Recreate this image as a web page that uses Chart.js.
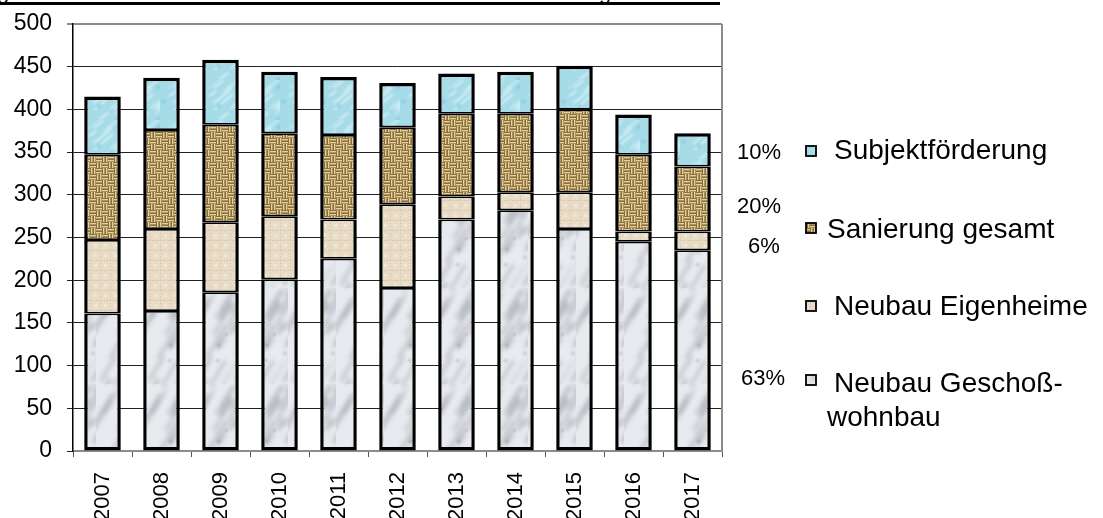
<!DOCTYPE html>
<html>
<head>
<meta charset="utf-8">
<script src="https://cdn.jsdelivr.net/npm/chart.js@4.4.1/dist/chart.umd.min.js"></script>
<style>
  html, body { margin: 0; padding: 0; background: #fff; }
  #wrap { position: relative; width: 1103px; height: 518px; }
</style>
</head>
<body>
<div id="wrap"><canvas id="c" width="1103" height="518"></canvas></div>
<script>
// Förderungsvolumen je Bereich (Mio. €), 2007–2017
const years = ['2007', '2008', '2009', '2010', '2011', '2012', '2013', '2014', '2015', '2016', '2017'];
const neubauGeschosswohnbau = [161, 164, 186, 201, 225, 191, 271, 282, 260, 245, 235];
const neubauEigenheime      = [86, 96, 82, 74, 46, 98, 27, 21, 43, 12, 22];
const sanierungGesamt       = [100, 116, 114, 97, 99, 90, 97, 92, 97, 90, 76];
const subjektfoerderung     = [68, 61, 76, 72, 68, 52, 47, 49, 51, 47, 39];
const yTickValues = [0, 50, 100, 150, 200, 250, 300, 350, 400, 450, 500];
const shareLabels = ['10%', '20%', '6%', '63%'];
const legendNames = ['Subjektförderung', 'Sanierung gesamt', 'Neubau Eigenheime', ['Neubau Geschoß-', 'wohnbau']];

const FONT = 'Arial, "Liberation Sans", Helvetica, sans-serif';
const canvas = document.getElementById('c');
const ctx = canvas.getContext('2d');

// deterministic hash for texture detail
function hash(n) { const s = Math.sin(n * 12.9898 + 78.233) * 43758.5453; return s - Math.floor(s); }

function tile(w, h, paint) {
  const c = document.createElement('canvas');
  c.width = w; c.height = h;
  paint(c.getContext('2d'), w, h);
  return ctx.createPattern(c, 'repeat');
}

// white marble
const marble = tile(48, 96, (g, w, h) => {
  g.fillStyle = '#e7eaee'; g.fillRect(0, 0, w, h);
  g.filter = 'blur(2px)';
  for (let k = 0; k < 26; k++) {
    const x = hash(k) * (w + 12) - 6, y = hash(k + 50) * (h + 14) - 7, len = 10 + hash(k + 100) * 24;
    g.strokeStyle = `rgba(120,125,135,${0.2 + hash(k + 150) * 0.22})`;
    g.lineWidth = 2 + hash(k + 200) * 3;
    g.beginPath(); g.moveTo(x, y); g.lineTo(x + len * 0.6, y - len); g.stroke();
  }
  g.filter = 'blur(0.8px)';
  for (let k = 0; k < 4; k++) {
    g.fillStyle = 'rgba(110,115,125,0.4)';
    g.beginPath(); g.arc(hash(k + 300) * w, hash(k + 350) * h, 1.5, 0, Math.PI * 2); g.fill();
  }
  g.filter = 'none';
});

// light canvas / linen
const linen = tile(10, 10, (g, w, h) => {
  g.fillStyle = '#e8dcc6'; g.fillRect(0, 0, w, h);
  g.fillStyle = '#d3c3a6';
  for (let i = 0; i < w; i += 2) g.fillRect(i, 0, 1, 1);
  for (let j = 0; j < h; j += 3) g.fillRect(0, j, 1, 1);
  g.fillStyle = '#efe6d6';
  g.fillRect(4, 4, 3, 3);
});

// woven straw
const weave = tile(12, 12, (g, w, h) => {
  g.fillStyle = '#74552a'; g.fillRect(0, 0, w, h);
  g.fillStyle = '#e4d196';
  for (let i = 0; i < 2; i++) {
    for (let j = 0; j < 2; j++) {
      const x0 = i * 6, y0 = j * 6;
      for (let r = 0; r < 2; r++) {
        if ((i + j) % 2 === 0) g.fillRect(x0, y0 + 0.8 + r * 3, 6, 1.7);
        else g.fillRect(x0 + 0.8 + r * 3, y0, 1.7, 6);
      }
    }
  }
});

// light blue water
const water = tile(40, 40, (g, w, h) => {
  g.fillStyle = '#a6dbe8'; g.fillRect(0, 0, w, h);
  g.filter = 'blur(1px)';
  for (let k = 0; k < 14; k++) {
    const x = hash(k + 500) * w, y = hash(k + 550) * h, len = 6 + hash(k + 600) * 14;
    g.strokeStyle = 'rgba(225,246,250,0.7)';
    g.lineWidth = 1 + hash(k + 650) * 1.5;
    g.beginPath(); g.moveTo(x, y); g.lineTo(x + len, y - len * 0.8); g.stroke();
  }
  for (let k = 0; k < 4; k++) {
    g.fillStyle = 'rgba(120,190,210,0.6)';
    g.beginPath(); g.arc(hash(k + 700) * w, hash(k + 750) * h, 2, 0, Math.PI * 2); g.fill();
  }
  g.filter = 'none';
});

const legendFills = [water, weave, linen, marble];

const decorations = {
  id: 'decorations',
  afterDraw(chart) {
    const c = chart.ctx, a = chart.chartArea;
    c.save();
    // underline of the heading above the chart
    c.fillStyle = '#000';
    c.fillRect(0, 2, 720, 3);
    c.font = '22px ' + FONT;
    c.textBaseline = 'alphabetic';
    c.fillText('g', -3, -1);
    c.fillText('g', 599, -1);
    // right frame edge of the plot area
    c.strokeStyle = '#8c8c8c';
    c.lineWidth = 2;
    c.beginPath(); c.moveTo(a.right, a.top); c.lineTo(a.right, a.bottom); c.stroke();

    // legend with shares
    const rows = [
      { pct: shareLabels[0], px: 737, py: 159, my: 146, tx: 834, ty: 159 },
      { pct: shareLabels[1], px: 737, py: 213, my: 223, tx: 827, ty: 238 },
      { pct: shareLabels[2], px: 748, py: 253, my: 301, tx: 834, ty: 315 },
      { pct: shareLabels[3], px: 741, py: 385, my: 375, tx: 834, ty: 392 }
    ];
    rows.forEach((r, i) => {
      c.fillStyle = '#000';
      c.font = '22px ' + FONT;
      c.textAlign = 'left';
      c.fillText(r.pct, r.px, r.py);
      c.fillStyle = legendFills[i];
      c.fillRect(806, r.my, 10, 10);
      c.strokeStyle = '#000';
      c.lineWidth = 1.8;
      c.strokeRect(806, r.my, 10, 10);
      c.fillStyle = '#000';
      c.font = '28px ' + FONT;
      const name = legendNames[i];
      if (Array.isArray(name)) {
        c.fillText(name[0], r.tx, r.ty);
        c.fillText(name[1], 827, r.ty + 34);
      } else {
        c.fillText(name, r.tx, r.ty);
      }
    });
    c.restore();
  }
};

// neighbouring segments share their edge, so inner edges are split in half
const common = { borderColor: '#000', borderSkipped: false };
const lowest = { ...common, borderWidth: { top: 1.75, bottom: 3.5, left: 3.5, right: 3.5 } };
const middle = { ...common, borderWidth: { top: 1.75, bottom: 1.75, left: 3.5, right: 3.5 } };
const upper  = { ...common, borderWidth: { top: 3.5, bottom: 1.75, left: 3.5, right: 3.5 } };

new Chart(canvas, {
  type: 'bar',
  data: {
    labels: years,
    datasets: [
      { label: 'Neubau Geschoßwohnbau', data: neubauGeschosswohnbau, backgroundColor: marble, ...lowest },
      { label: 'Neubau Eigenheime', data: neubauEigenheime, backgroundColor: linen, ...middle },
      { label: 'Sanierung gesamt', data: sanierungGesamt, backgroundColor: weave, ...middle },
      { label: 'Subjektförderung', data: subjektfoerderung, backgroundColor: water, ...upper }
    ]
  },
  options: {
    responsive: false,
    animation: false,
    devicePixelRatio: 1,
    layout: { padding: { top: 24, right: 381, bottom: 0, left: 0 } },
    datasets: { bar: { categoryPercentage: 1, barPercentage: 0.62 } },
    plugins: { legend: { display: false }, tooltip: { enabled: false }, title: { display: false } },
    scales: {
      x: {
        stacked: true,
        offset: true,
        grid: { display: true, offset: true, drawOnChartArea: false, drawTicks: true, tickLength: 6, color: '#555', lineWidth: 1 },
        border: { color: '#8c8c8c', width: 2 },
        ticks: { minRotation: 90, maxRotation: 90, padding: 15, color: '#000', font: { family: FONT, size: 22 } },
        afterFit(s) { s.height = 67; }
      },
      y: {
        stacked: true,
        min: 0,
        max: 500,
        afterBuildTicks(s) { s.ticks = yTickValues.map(v => ({ value: v })); },
        grid: {
          tickLength: 6,
          color: c => (c.tick && c.tick.value === 500 ? '#8c8c8c' : '#222'),
          lineWidth: c => (c.tick && c.tick.value === 500 ? 2 : 1)
        },
        border: { color: '#000', width: 1.5 },
        ticks: { padding: 15, color: '#000', font: { family: FONT, size: 23 } },
        afterFit(s) { s.width = 73; s.paddingTop = 0; s.paddingBottom = 0; }
      }
    }
  },
  plugins: [decorations]
});
</script>
</body>
</html>
